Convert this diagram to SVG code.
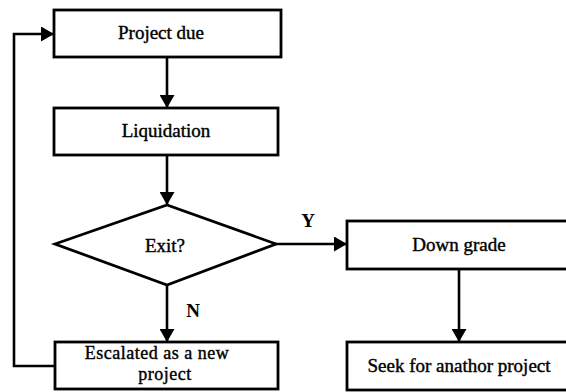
<svg xmlns="http://www.w3.org/2000/svg" width="566" height="392" viewBox="0 0 566 392">
<style>
.box{fill:#fff;stroke:#000;stroke-width:2.8}
.t{font-family:'Liberation Serif','Times New Roman',serif;font-size:19px;fill:#000;stroke:#000;stroke-width:0.4;text-anchor:middle}
.t2{font-size:18px;letter-spacing:0.5px}
.lbl{font-family:'Liberation Serif','Times New Roman',serif;font-size:19px;font-weight:bold;fill:#000;text-anchor:middle}
.c{fill:none;stroke:#000;stroke-width:2.6}
</style>
<defs>
<marker id="ah" markerUnits="userSpaceOnUse" markerWidth="14" markerHeight="15" refX="13" refY="7.5" orient="auto">
<path d="M0,0 L13,7.5 L0,15 z" fill="#000"/>
</marker>
</defs>
<rect width="566" height="392" fill="#fff"/>
<g id="connectors">
<line class="c" x1="167" y1="57" x2="167" y2="108" marker-end="url(#ah)"/>
<line class="c" x1="167" y1="155" x2="167" y2="205" marker-end="url(#ah)"/>
<line class="c" x1="167" y1="285" x2="167" y2="342" marker-end="url(#ah)"/>
<line class="c" x1="276" y1="244" x2="347" y2="244" marker-end="url(#ah)"/>
<line class="c" x1="459" y1="269" x2="459" y2="342" marker-end="url(#ah)"/>
<polyline class="c" points="55,366 14,366 14,34 54,34" marker-end="url(#ah)"/>
<text class="lbl" x="193" y="317">N</text>
<text class="lbl" x="308" y="227">Y</text>
</g>
<g id="project-due">
<rect class="box" x="54" y="10" width="227" height="47"/>
<text class="t" x="161" y="39">Project due</text>
</g>
<g id="liquidation">
<rect class="box" x="54" y="108" width="224" height="47"/>
<text class="t" x="166" y="137">Liquidation</text>
</g>
<g id="exit">
<polygon class="box" points="55,244 167,205 276,244 167,285"/>
<text class="t" x="165" y="252">Exit?</text>
</g>
<g id="escalated">
<rect class="box" x="55" y="342" width="223" height="47"/>
<text class="t t2" x="157" y="359">Escalated as a new</text>
<text class="t t2" x="165" y="380">project</text>
</g>
<g id="down-grade">
<rect class="box" x="347" y="221" width="225" height="48"/>
<text class="t" x="459" y="251">Down grade</text>
</g>
<g id="seek">
<rect class="box" x="347" y="342" width="225" height="48"/>
<text class="t" x="459" y="372">Seek for anathor project</text>
</g>
</svg>
